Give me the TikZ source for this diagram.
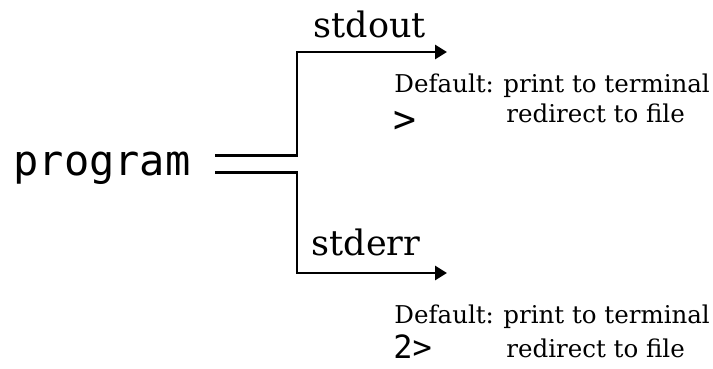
\documentclass[tikz,border=0pt]{standalone}
\usepackage{fontspec}
\setmainfont{DejaVu Serif}
\setmonofont{DejaVu Sans Mono}
\usetikzlibrary{arrows.meta}
\begin{document}
\begin{tikzpicture}
  [x=1pt,y=1pt,line width=2.9pt,
   stream/.style={font=\fontsize{35}{40}\selectfont,anchor=base,inner sep=0},
   note/.style={font=\fontsize{24.5}{30}\selectfont,anchor=base west,inner sep=0},
   op/.style={font=\ttfamily\fontsize{32}{36}\selectfont,anchor=base west,inner sep=0}]
  \useasboundingbox (0,0) rectangle (713,368);
  \node (prog)[anchor=base west,inner sep=0,font=\ttfamily\fontsize{42}{48}\selectfont] at (12,193) {program};
  \coordinate (a1) at (215,212.5);
  \coordinate (a2) at (215,195.5);
  \coordinate (b1) at (297,316);
  \coordinate (b2) at (297,95);
  \coordinate (out) at (447,316);
  \coordinate (err) at (447,95);
  \node (sout)[stream] at (370,331) {stdout};
  \node (serr)[stream] at (366,113) {stderr};
  \node (d1)[note] at (393,276) {Default:};
  \node (p1)[note] at (502,276) {print to terminal};
  \node (g1)[op,font=\ttfamily\fontsize{38}{40}\selectfont] at (392,236) {>};
  \node (r1)[note] at (505,246) {redirect to file};
  \node (d2)[note] at (393,45) {Default:};
  \node (p2)[note] at (502,45) {print to terminal};
  \node (g2)[op] at (392,10) {2>};
  \node (r2)[note] at (505,11) {redirect to file};

  \foreach \from/\mid/\to in {a1/b1/out,a2/b2/err}
    \draw[-{Triangle[length=12pt,width=14pt]}] (\from) -| (\mid) -- (\to);
\end{tikzpicture}
\end{document}
